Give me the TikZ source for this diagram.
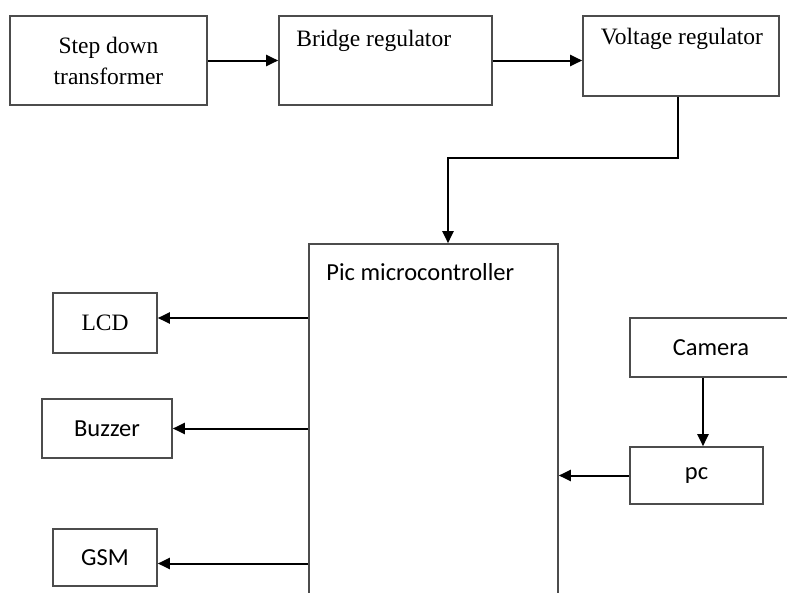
\documentclass[tikz,border=0pt]{standalone}
\usepackage{fontspec}
\setmainfont{Liberation Serif}
\newfontfamily\calibri{Carlito}
\usetikzlibrary{arrows.meta,positioning,calc}
\tikzset{
  blk/.style={draw=black!70, line width=1.6pt, fill=white, inner sep=0pt},
  sig/.style={-{Triangle[length=12pt,width=11pt]}, line width=2pt, draw=black},
  rm/.style={font=\fontsize{23.5}{31}\selectfont, align=center, inner sep=0pt},
  sf/.style={font=\calibri\fontsize{24.5}{29}\selectfont, align=center, inner sep=0pt},
}
\begin{document}
\begin{tikzpicture}[x=1pt, y=-1pt]
    \useasboundingbox (0,0) rectangle (787,592);
    \fill[white] (0,0) rectangle (787,592);
    % power chain
    \node[blk, rm, minimum width=197pt, minimum height=89pt] (step) at (108.5,60.5) {Step down\\ transformer};
    \node[blk, minimum width=213pt, minimum height=89pt] (bridge) at (385.5,60.5) {};
    \node[rm, anchor=west] (bridgelab) at ($(bridge.north west)+(18,26)$) {Bridge regulator};
    \node[blk, minimum width=196pt, minimum height=80pt] (volt) at (681,56) {};
    \node[rm] (voltlab) at ($(volt.north)+(1,24)$) {Voltage regulator};
    % controller
    \node[blk, minimum width=249pt, minimum height=354pt] (pic) at (433.5,421) {};
    \node[sf, anchor=west] (piclab) at ($(pic.north west)+(18,29)$) {Pic microcontroller};
    % outputs and inputs
    \node[blk, rm, minimum width=104pt, minimum height=60pt] (lcd) at (105,323) {LCD};
    \node[blk, sf, minimum width=130pt, minimum height=59pt] (buzzer) at (107,428.5) {Buzzer};
    \node[blk, sf, minimum width=104pt, minimum height=57pt] (gsm) at (105,557.5) {GSM};
    \node[blk, sf, minimum width=162pt, minimum height=59pt] (cam) at (711,347.5) {Camera};
    \node[blk, sf, minimum width=133pt, minimum height=57pt] (pc) at (696.5,475.5) {pc};
    \coordinate (bend) at (448,158);
    \coordinate (lcdin) at ([yshift=5pt]lcd.east);
    \coordinate (gsmin) at ([yshift=-6pt]gsm.east);
    \coordinate (camout) at ([xshift=-8pt]cam.south);
    \draw[sig] (step) -- (bridge);
    \draw[sig] (bridge.east) -- (bridge.east -| volt.west);
    \draw[sig] ([xshift=-3pt]volt.south) |- (bend) -- (bend |- pic.north);
    \draw[sig] (lcdin -| pic.west) -- (lcdin);
    \draw[sig] (buzzer.east -| pic.west) -- (buzzer);
    \draw[sig] (gsmin -| pic.west) -- (gsmin);
    \draw[sig] (camout) -- (camout |- pc.north);
    \draw[sig] (pc.west) -- (pc.west -| pic.east);
\end{tikzpicture}
\end{document}
